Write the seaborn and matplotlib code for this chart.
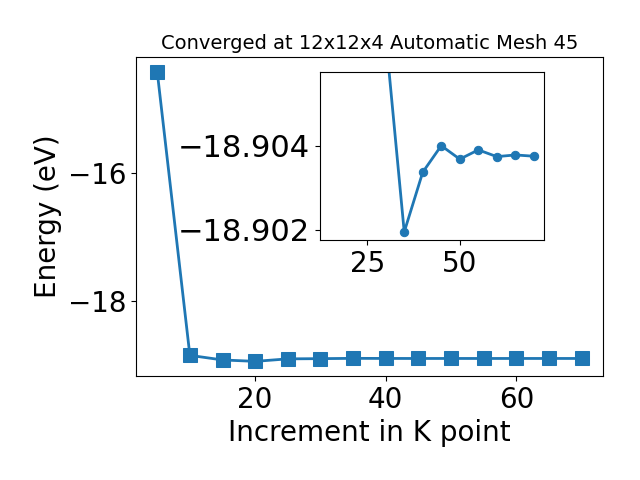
import matplotlib
matplotlib.use("Agg")
import matplotlib.pyplot as plt
import seaborn as sns
import numpy as np
import pandas as pd

# Data
kpoints = [5, 10, 15, 20, 25, 30, 35, 40, 45, 50, 55, 60, 65, 70]
energy = [-14.41, -18.855, -18.927, -18.949, -18.91, -18.9066,
          -18.90195, -18.90337, -18.90400, -18.90368, -18.90390,
          -18.90374, -18.90378, -18.90375]

main_yticks = [-18, -16]
main_xticks = [20, 40, 60]
inset_xticks = [25, 50]
inset_yticks = [-18.904, -18.902]
inset_ylim = (-18.90176, -18.90575)

title = "Converged at 12x12x4 Automatic Mesh 45"
xlabel = "Increment in K point"
ylabel = "Energy (eV)"

df = pd.DataFrame({"k": kpoints, "E": energy})
df_in = df[df["k"] >= 15]

fig = plt.figure(figsize=(6.4, 4.8), dpi=100)
ax = fig.add_axes([0.2125, 0.217, 0.7295, 0.664])
sns.lineplot(data=df, x="k", y="E", marker="s", markersize=10, linewidth=2,
             color="#1f77b4", markeredgecolor="#1f77b4", ax=ax)
ax.set_xticks(main_xticks)
ax.set_yticks(main_yticks)
ax.tick_params(labelsize=20)
ax.set_xlabel(xlabel, fontsize=20)
ax.set_ylabel(ylabel, fontsize=20)
ax.set_title(title, fontsize=14)

ins = fig.add_axes([0.5, 0.5, 0.35, 0.35])
sns.lineplot(data=df_in, x="k", y="E", marker="o", markersize=6, linewidth=2,
             color="#1f77b4", markeredgecolor="#1f77b4", ax=ins)
ins.set_ylim(*inset_ylim)
ins.set_xticks(inset_xticks)
ins.set_yticks(inset_yticks)
ins.ticklabel_format(axis="y", useOffset=False)
ins.tick_params(axis="x", labelsize=20)
ins.tick_params(axis="y", labelsize=22)
ins.set_xlabel("")
ins.set_ylabel("")

fig.savefig("out.png", dpi=100)
